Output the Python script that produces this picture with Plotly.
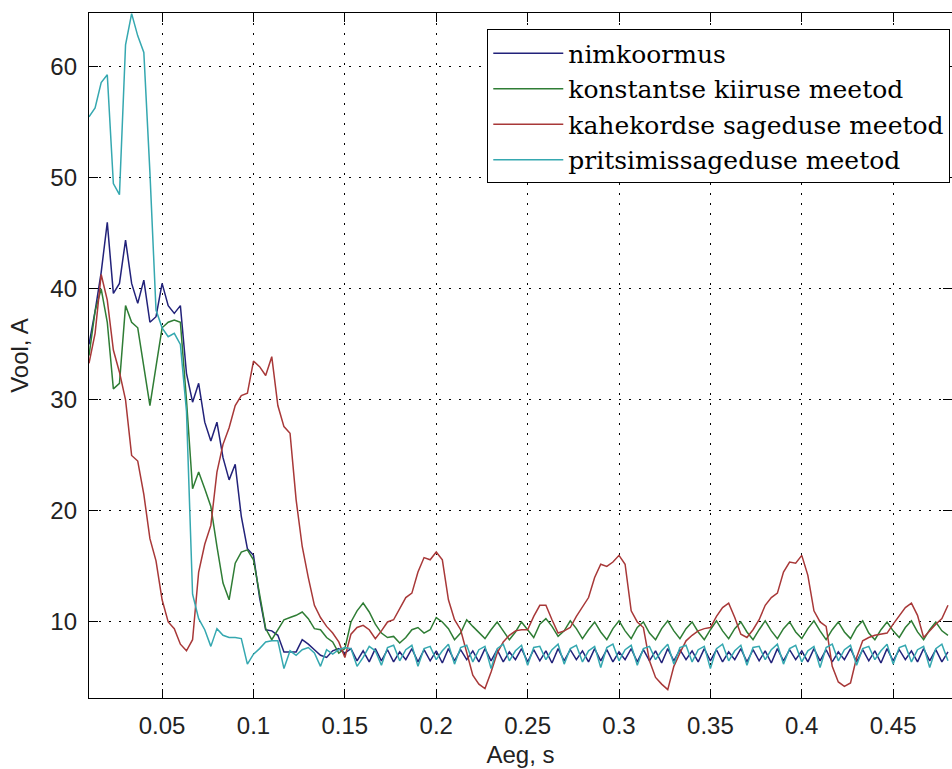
import numpy as np
import plotly.graph_objects as go

# Current (A) sampled every 1/300 s starting at t = 0.01 s
nimkoormus = [35, 38, 41.5, 46, 39.6, 40.5, 44.4, 40.5, 38.7, 40.8, 37, 37.5, 40.5, 38.5, 37.8,
              38.5, 32.4, 29.8, 31.5, 28, 26.3, 28, 24.8, 22.8, 24.2, 19.5, 16.6, 16, 12.2, 9.3,
              9.2, 8.8, 7.3, 7.3, 7.3, 8.4, 8.0, 7.5, 7.0, 6.8, 7.4, 7.6,
              7.2, 7.6, 6.5, 7.4, 6.4, 7.6, 6.5, 7.5, 6.4, 7.3, 6.6, 7.6, 6.4, 7.5, 6.5, 7.4, 6.3,
              7.6, 6.5, 7.5, 6.6, 7.4, 6.4, 7.6, 6.5, 7.5, 6.4, 7.3, 6.6, 7.6, 6.4, 7.5, 6.5, 7.4,
              6.3, 7.6, 6.5, 7.5, 6.6, 7.4, 6.4, 7.6, 6.5, 7.5, 6.4, 7.3, 6.6, 7.6, 6.4, 7.5, 6.5,
              7.4, 6.3, 7.6, 6.5, 7.5, 6.6, 7.4, 6.4, 7.6, 6.5, 7.5, 6.4, 7.3, 6.6, 7.6, 6.4, 7.5,
              6.5, 7.4, 6.3, 7.6, 6.5, 7.5, 6.6, 7.4, 6.4, 7.6, 6.5, 7.5, 6.4, 7.3, 6.6, 7.6, 6.4,
              7.5, 6.5, 7.4, 6.3, 7.6, 6.5, 7.5, 6.6, 7.4, 6.4, 7.6, 6.5, 7.5, 6.4, 7.3]

konstantse = [34, 38, 40, 37, 31, 31.5, 38.5, 37, 36.5, 33, 29.5, 33, 36.5, 37, 37.2, 37, 30, 22,
              23.5, 22, 20.4, 16.8, 13.5, 12, 15.3, 16.3, 16.5, 15.6, 12.5, 9.4, 8.4, 9.3, 10.2,
              10.4, 10.6, 10.9, 10.3, 9.4, 9.3, 8.6, 8.2, 7.2,
              7.6, 10.0, 11.0, 11.7, 10.9, 9.8, 9.0, 8.6, 8.7, 8.1, 8.6, 9.3, 9.5, 9.0, 9.3, 10.4,
              10.0, 9.4, 8.4, 9.0, 10.2, 9.6, 9.0, 8.5, 9.3, 10.0, 9.2, 8.4, 9.1, 10.0, 9.3, 8.6,
              9.8, 10.3, 9.6, 8.7, 9.2, 10.1, 9.4, 8.5, 9.3, 10.0, 9.1, 8.4, 9.4, 10.1, 9.2, 8.5,
              9.5, 10.0, 9.0, 8.4, 9.4, 10.1, 9.2, 8.5, 9.4, 10.0, 9.1, 8.4, 9.3, 10.1, 9.2, 8.5,
              9.4, 10.0, 9.1, 8.4, 9.3, 10.1, 9.2, 8.5, 9.4, 10.0, 9.1, 8.5, 9.4, 10.1, 9.2, 8.4,
              9.3, 10.0, 9.1, 8.5, 9.5, 10.1, 9.0, 8.4, 9.3, 10.0, 9.2, 8.6, 9.5, 10.1, 9.1, 8.4,
              9.3, 10.0, 9.2, 8.8]

kahekordse = [33.3, 36, 41.3, 39, 34.5, 32.5, 30, 25, 24.5, 21.5, 17.5, 15.5, 12, 10, 9.4, 8,
              7.4, 8.4, 14.5, 17, 18.7, 23.5, 26, 27.5, 29.5, 30.4, 30.6, 33.5, 33, 32.2, 33.9,
              29.5, 27.6, 27, 21, 16.8, 14, 11.5, 10.4, 9.6, 9.0, 8.2, 6.8, 8.9, 9.5, 9.7, 9.3,
              8.5, 9.2, 10.0, 10.2, 11.2, 12.2, 12.6, 14.5, 15.8, 15.6, 16.3, 15.6, 12, 10.2,
              9.3, 7.2, 5.2, 4.4, 4.0, 5.5, 7.2, 8.2, 8.8, 9.2, 9.3, 9.3, 10.5, 11.5, 11.5, 10.2,
              9.0, 9.2, 9.5, 10.5, 11.4, 12.2, 14, 15.2, 15.0, 15.4, 16, 15.2, 11, 10, 9.5, 6.5,
              5, 4.4, 3.9, 6, 7.2, 8.3, 8.8, 9.2, 9.4, 9.5, 10.5, 11.3, 11.7, 10.4, 8.9, 8.6,
              9.3, 10.2, 11.5, 12.2, 12.6, 14.5, 15.4, 15.3, 16, 14.2, 11, 10, 9.6, 6, 4.6, 4.2,
              4.5, 6.8, 8.3, 8.6, 8.8, 8.9, 9.0, 9.8, 10.6, 11.3, 11.7, 10.6, 8.6, 9.2, 9.8,
              10.3, 11.5]

pritsimis = [55.5, 56.3, 58.6, 59.3, 49.5, 48.5, 62, 64.8, 62.8, 61.3, 50.5, 38.1, 36.5, 35.7,
             36, 35, 29, 12.5, 10.3, 9.3, 7.8, 9.4, 8.8, 8.6, 8.6, 8.5, 6.2, 7.1, 7.6, 8.2, 8.3,
             8.3, 5.8, 7.4, 7.0, 7.5, 7.7, 7.2, 6.0, 7.5, 7.1, 7.5, 7.7, 7.6, 6.0, 6.8,
             7.8, 7.4, 6.1, 7.7, 7.9, 6.5, 7.5, 7.9, 6.0, 7.6, 7.8, 6.6, 7.4, 8.0, 6.2, 7.7, 7.9,
             6.4, 7.5, 7.8, 5.8, 7.6, 8.0, 6.5, 7.4, 7.9, 6.1, 7.7, 7.8, 6.6, 7.5, 8.0, 6.2, 7.6,
             7.9, 6.4, 7.4, 7.8, 5.9, 7.7, 8.0, 6.5, 7.5, 7.9, 6.1, 7.6, 7.8, 6.6, 7.4, 8.0, 6.2,
             7.7, 7.9, 6.4, 7.5, 7.8, 5.8, 7.6, 8.0, 6.5, 7.4, 7.9, 6.1, 7.7, 7.8, 6.6, 7.5, 8.0,
             6.2, 7.6, 7.9, 6.4, 7.4, 7.8, 5.9, 7.7, 8.0, 6.5, 7.5, 7.9, 6.1, 7.6, 7.8, 6.6, 7.4,
             8.0, 6.2, 7.7, 7.9, 6.4, 7.5, 7.8, 5.9, 7.6, 8.0, 6.5]

series_names = ["nimkoormus", "konstantse kiiruse meetod",
                "kahekordse sageduse meetod", "pritsimissageduse meetod"]
series_values = [nimkoormus, konstantse, kahekordse, pritsimis]
series_colors = ["#22227a", "#2f7d35", "#a83838", "#35a8b0"]

x_ticks = [0.05, 0.1, 0.15, 0.2, 0.25, 0.3, 0.35, 0.4, 0.45]
x_ticklabels = ["0.05", "0.1", "0.15", "0.2", "0.25", "0.3", "0.35", "0.4", "0.45"]
y_ticks = [10, 20, 30, 40, 50, 60]

fig = go.Figure()
for name, vals, col in zip(series_names, series_values, series_colors):
    t = np.round(0.01 + np.arange(len(vals)) / 300.0, 6)
    fig.add_trace(go.Scatter(x=t, y=vals, mode="lines", name=name,
                             line=dict(color=col, width=1.5)))

sans = "Liberation Sans, Arial, sans-serif"
axis_common = dict(
    showline=True, linecolor="black", linewidth=1.3, mirror="ticks",
    ticks="inside", ticklen=9, tickwidth=1, tickcolor="black",
    showgrid=True, gridcolor="black", gridwidth=1, griddash="2px,8px",
    zeroline=False, tickfont=dict(family=sans, size=24, color="#222222"),
)

fig.update_layout(
    width=952, height=769,
    margin=dict(l=89, r=0, t=13, b=71),
    paper_bgcolor="white", plot_bgcolor="white",
    showlegend=True,
    legend=dict(
        x=0.998, y=0.976, xanchor="right", yanchor="top",
        bgcolor="white", bordercolor="black", borderwidth=1,
        font=dict(family="DejaVu Serif, serif", size=25, color="black"),
        tracegroupgap=0, itemwidth=70,
    ),
    xaxis=dict(range=[0.01, 0.4822], tickvals=x_ticks, ticktext=x_ticklabels,
               title=dict(text="Aeg, s", font=dict(family=sans, size=24, color="#222222"),
                          standoff=8),
               ticklabelstandoff=6, **axis_common),
    yaxis=dict(range=[3.15, 64.86], tickvals=y_ticks,
               title=dict(text="Vool, A", font=dict(family=sans, size=24, color="#222222"),
                          standoff=14),
               ticklabelstandoff=6, **axis_common),
)

fig.write_html("out.html", config={"displayModeBar": False},
               post_script="document.body.style.margin='0';")
